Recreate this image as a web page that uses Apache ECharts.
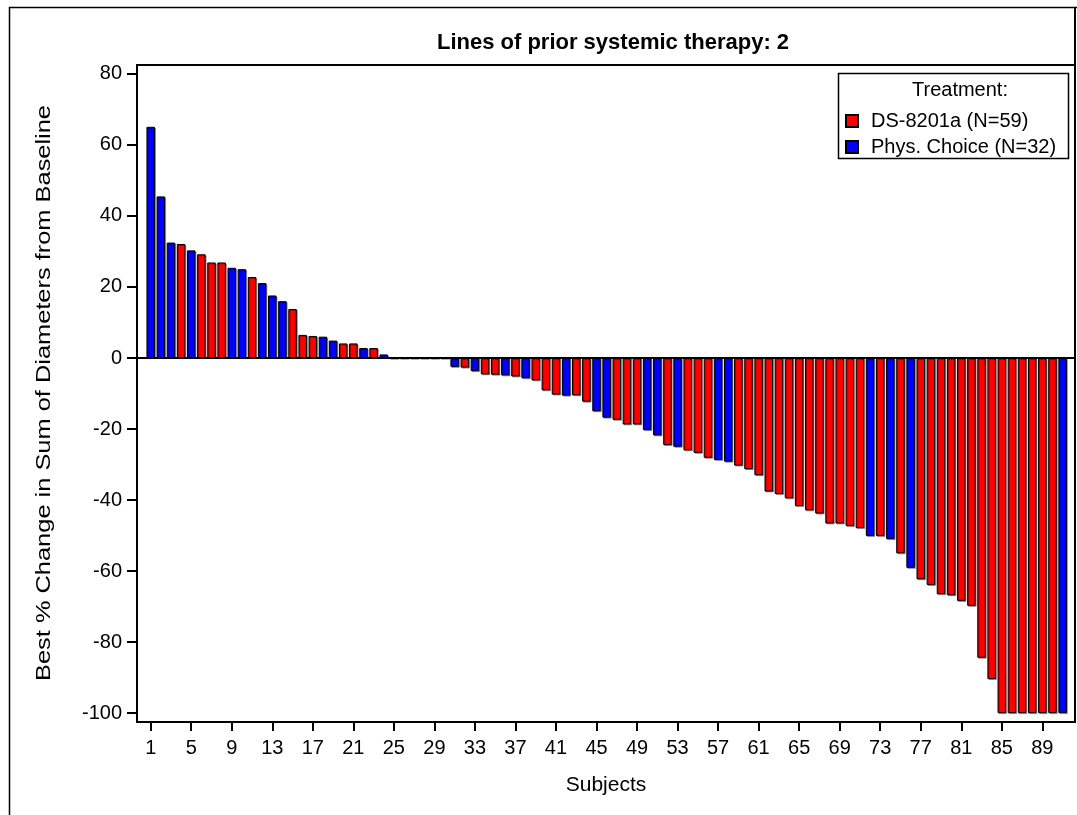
<!DOCTYPE html>
<html><head><meta charset="utf-8">
<script src="https://cdn.jsdelivr.net/npm/echarts@6/dist/echarts.min.js"></script>
<style>html,body{margin:0;padding:0;background:#fff}#c{width:1077px;height:815px}</style>
</head><body><div id="c"></div>
<script>
// Best % change for subjects 1..91 (in plotted order)
const bestChange = [
  65.1, 45.5, 32.5, 32.1, 30.3, 29.2, 26.9, 26.9, 25.4, 25.0,
  22.8, 21.1, 17.6, 16.0, 13.8, 6.5, 6.2, 6.0, 4.9, 4.1,
  4.1, 2.8, 2.8, 1.0, 0, 0, 0, 0, 0, 0,
  -2.5, -2.7, -3.7, -4.6, -4.7, -4.9, -5.2, -5.7, -6.3, -9.1,
  -10.3, -10.6, -10.5, -12.3, -15.0, -16.8, -17.4, -18.7, -18.7, -20.3,
  -21.8, -24.5, -25.0, -26.0, -26.7, -28.1, -28.7, -29.2, -30.3, -31.3,
  -33.0, -37.6, -38.3, -39.5, -41.7, -42.9, -43.8, -46.6, -46.6, -47.3,
  -47.9, -50.1, -50.1, -51.0, -55.0, -59.1, -62.3, -63.9, -66.5, -66.8,
  -68.4, -69.8, -84.4, -90.4, -100, -100, -100, -100, -100, -100,
  -100
];
// D = DS-8201a, P = Phys. Choice
const treatment = [
  'P','P','P','D','P','D','D','D','P','P',
  'D','P','P','P','D','D','D','P','P','D',
  'D','P','D','P','D','P','D','P','D','P',
  'P','D','P','D','D','P','D','P','D','D',
  'D','P','D','D','P','P','D','D','D','P',
  'P','D','P','D','D','D','P','P','D','D',
  'D','D','D','D','D','D','D','D','D','D',
  'D','P','D','P','D','P','D','D','D','D',
  'D','D','D','D','D','D','D','D','D','D',
  'P'
];
const groupCodes = ['D','P'];
const groupNames = ['DS-8201a (N=59)','Phys. Choice (N=32)'];
const groupColors = ['#FF0000','#0000FF'];
const xTickLabels = [1,5,9,13,17,21,25,29,33,37,41,45,49,53,57,61,65,69,73,77,81,85,89];
const yTickLabels = [-100,-80,-60,-40,-20,0,20,40,60,80];
const titleText = 'Lines of prior systemic therapy: 2';
const xTitle = 'Subjects';
const yTitle = 'Best % Change in Sum of Diameters from Baseline';
const legendTitle = 'Treatment:';

const FONT = "'Liberation Sans', Arial, sans-serif";
const chart = echarts.init(document.getElementById('c'), null, {renderer:'canvas'});

const series = groupCodes.map((code, g) => ({
  name: groupNames[g],
  type: 'bar',
  barWidth: 8.5,
  barGap: '-100%',
  itemStyle: {color: groupColors[g], borderColor: '#000', borderWidth: 1,
    shadowColor: 'rgba(0,0,0,0.35)', shadowOffsetX: 1, shadowOffsetY: 1, shadowBlur: 0},
  data: bestChange.map((v, i) => treatment[i] === code ? [i + 1, v] : null).filter(d => d),
  markLine: g === 0 ? {silent: true, symbol: 'none', label: {show: false},
    lineStyle: {color: '#000', width: 2, type: 'solid'}, data: [{yAxis: 0}]} : undefined
}));

chart.setOption({
  animation: false,
  backgroundColor: '#fff',
  textStyle: {fontFamily: FONT, color: '#000'},
  title: {text: titleText, left: 608, top: 27, textAlign: 'center',
    textStyle: {fontFamily: FONT, fontSize: 22, fontWeight: 'bold', color: '#000'}},
  grid: {left: 137, right: 2, top: 65, bottom: 93, show: true, borderColor: '#000', borderWidth: 2,
    backgroundColor: 'transparent', containLabel: false},
  legend: {
    orient: 'vertical', left: 845, top: 111, padding: 0,
    itemWidth: 12, itemHeight: 12, itemGap: 6,
    icon: 'rect',
    textStyle: {fontFamily: FONT, fontSize: 20, color: '#000', lineHeight: 14, padding: [0,0,0,8]},
    data: groupNames
  },
  xAxis: {
    type: 'value', min: -0.352, max: 92.226,
    name: xTitle, nameLocation: 'middle', nameGap: 53,
    nameTextStyle: {fontFamily: FONT, fontSize: 21, color: '#000'},
    axisLine: {show: true, onZero: false, lineStyle: {color: '#000', width: 2}},
    axisTick: {show: true, length: 9, lineStyle: {color: '#000', width: 2}, customValues: xTickLabels},
    axisLabel: {color: '#000', fontFamily: FONT, fontSize: 20, margin: 16, customValues: xTickLabels},
    splitLine: {show: false}
  },
  yAxis: {
    type: 'value', min: -102.5, max: 82.5,
    axisLine: {show: true, onZero: false, lineStyle: {color: '#000', width: 2}},
    axisTick: {show: true, length: 10, lineStyle: {color: '#000', width: 2}, customValues: yTickLabels},
    axisLabel: {color: '#000', fontFamily: FONT, fontSize: 20, margin: 15, customValues: yTickLabels},
    splitLine: {show: false}
  },
  graphic: [
    {type: 'rect', silent: true, z: 100, shape: {x: 9.5, y: 7.5, width: 1200, height: 1000},
      style: {fill: 'none', stroke: '#000', lineWidth: 1.5}},
    {type: 'line', silent: true, z: 100, shape: {x1: 1075, y1: 7.5, x2: 1075, y2: 65},
      style: {stroke: '#000', lineWidth: 2}},
    {type: 'rect', silent: true, z: 100, shape: {x: 838.5, y: 73.5, width: 230, height: 85},
      style: {fill: 'none', stroke: '#000', lineWidth: 1.5}},
    {type: 'text', silent: true, z: 100, x: 960, y: 90,
      style: {text: legendTitle, fill: '#000', font: '20px ' + FONT, textAlign: 'center', textVerticalAlign: 'middle'}},
    {type: 'text', silent: true, z: 100, x: 44, y: 393, rotation: Math.PI / 2, scaleX: 1.27,
      style: {text: yTitle, fill: '#000', font: '20px ' + FONT, textAlign: 'center', textVerticalAlign: 'middle'}}
  ],
  series: series
});
</script></body></html>
